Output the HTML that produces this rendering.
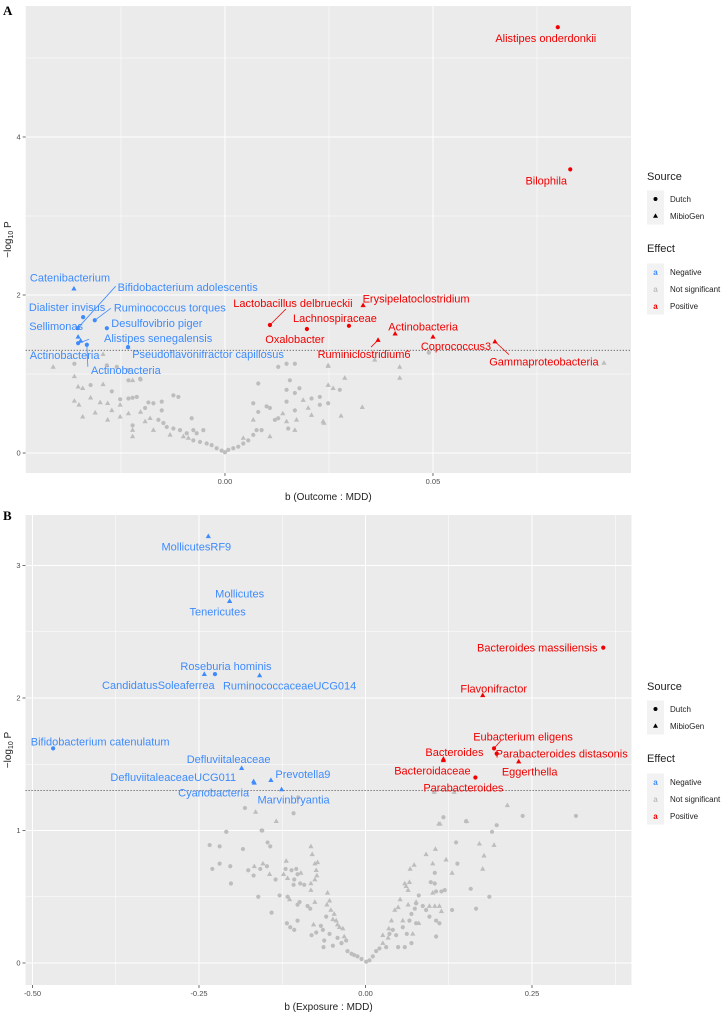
<!DOCTYPE html>
<html><head><meta charset="utf-8">
<style>
html,body{margin:0;padding:0;background:#fff;}
svg{display:block;font-family:"Liberation Sans",Arial,sans-serif;}
</style></head>
<body>
<svg id="fig" width="726" height="1015" viewBox="0 0 726 1015" xmlns="http://www.w3.org/2000/svg">
<text x="3" y="15" font-family="Liberation Serif,serif" font-weight="bold" font-size="13">A</text>
<text x="3" y="520" font-family="Liberation Serif,serif" font-weight="bold" font-size="13">B</text>
<g id="panelA"></g>
<g id="panelB"></g>
<g id="legendA"></g>
<g id="legendB"></g>
</svg>
<script>
// ---------- Panel A data ----------
const aLabNames = ["Alistipes onderdonkii","Bilophila","Catenibacterium","Bifidobacterium adolescentis","Dialister invisus","Ruminococcus torques","Desulfovibrio piger","Sellimonas","Alistipes senegalensis","Actinobacteria","Actinobacteria","Pseudoflavonifractor capillosus","Lactobacillus delbrueckii","Oxalobacter","Lachnospiraceae","Erysipelatoclostridium","Actinobacteria","Ruminiclostridium6","Coprococcus3","Gammaproteobacteria"];
const aLabB = [0.080,0.083,-0.0363,-0.0354,-0.0341,-0.0313,-0.0284,-0.0353,-0.0353,-0.0347,-0.0332,-0.0233,0.0108,0.0197,0.0298,0.0332,0.0409,0.0368,0.0500,0.0649];
const aLabP = [5.39,3.59,2.08,1.58,1.72,1.68,1.58,1.47,1.39,1.42,1.37,1.34,1.62,1.57,1.61,1.87,1.51,1.43,1.47,1.41];
const aLabShape = ["c","c","t","c","c","c","c","t","c","t","c","c","c","c","c","t","t","t","t","t"];
const aLabEffect = ["pos","pos","neg","neg","neg","neg","neg","neg","neg","neg","neg","neg","pos","pos","pos","pos","pos","pos","pos","pos"];
const aGrayB = [-0.0413,-0.0362,-0.0362,-0.0353,-0.0342,-0.0323,-0.0293,-0.0272,-0.0362,-0.0351,-0.0342,-0.0323,-0.0312,-0.0300,-0.0282,-0.0282,-0.0272,-0.0252,-0.0252,-0.0252,-0.0232,-0.0222,-0.0203,-0.0232,-0.0222,-0.0212,-0.0232,-0.0222,-0.0222,-0.0222,-0.0203,-0.0192,-0.0184,-0.0172,-0.0152,-0.0180,-0.0192,-0.0172,-0.0160,-0.0152,-0.0148,-0.0140,-0.0124,-0.0112,-0.0124,-0.0132,-0.0108,-0.0100,-0.0092,-0.0080,-0.0076,-0.0068,-0.0052,-0.0088,-0.0076,-0.0060,-0.0044,-0.0032,-0.0020,-0.0008,0.0000,0.0008,0.0020,0.0032,0.0044,0.0056,0.0044,0.0068,0.0076,0.0088,0.0080,0.0068,0.0080,0.0068,0.0100,0.0108,0.0108,0.0120,0.0128,0.0128,0.0148,0.0168,0.0139,0.0148,0.0152,0.0148,0.0148,0.0156,0.0168,0.0179,0.0168,0.0172,0.0168,0.0188,0.0200,0.0208,0.0208,0.0228,0.0228,0.0236,0.0248,0.0248,0.0260,0.0248,0.0360,0.0420,0.0420,0.0490,0.0911,0.0288,0.0248,0.0276,0.0330,0.0238,0.0279,-0.0293,-0.0284,-0.0260,-0.0233,-0.0204,-0.0233];
const aGrayP = [1.09,1.13,0.97,0.84,0.82,0.86,0.87,0.78,0.66,0.61,0.46,0.70,0.51,0.64,0.63,0.42,0.54,0.68,0.61,0.46,0.92,0.92,0.93,0.69,0.70,0.71,0.50,0.35,0.29,0.21,0.52,0.57,0.64,0.63,0.65,0.44,0.40,0.29,0.42,0.54,0.38,0.33,0.73,0.71,0.31,0.23,0.29,0.21,0.25,0.44,0.29,0.25,0.29,0.19,0.16,0.14,0.12,0.10,0.06,0.03,0.01,0.04,0.06,0.08,0.12,0.16,0.19,0.23,0.29,0.29,0.88,0.63,0.52,0.42,0.59,0.57,0.21,0.42,0.44,1.09,1.13,1.13,0.50,0.40,0.31,0.65,0.80,0.92,0.76,0.82,0.54,0.42,0.29,0.67,0.57,0.69,0.48,0.71,0.61,0.40,1.11,0.86,0.82,0.63,1.18,1.09,0.95,1.27,1.14,0.95,1.10,0.80,0.58,0.38,0.47,1.25,1.11,1.09,1.05,0.94,1.34];
const aGrayShape = ["t","c","t","t","t","c","t","c","t","t","t","t","t","t","t","t","t","c","t","t","c","t","c","c","c","c","t","c","t","t","t","c","c","c","c","t","t","t","c","c","c","c","c","c","c","t","c","t","c","c","c","c","c","t","c","c","c","c","c","c","c","c","c","c","c","c","t","c","c","c","c","c","c","t","c","c","t","c","c","c","c","c","t","t","c","c","c","c","c","c","c","t","t","t","t","c","t","c","c","t","t","t","t","c","t","t","t","c","t","t","t","c","t","t","t","t","c","c","c","c","t"];
const aXTicks = [0, 0.05];
const aXTickLabels = ["0.00","0.05"];
const aYTicks = [0, 2, 4];
const aYTickLabels = ["0","2","4"];
// label layout offsets (px) – styling only
const aLabOff = [[-12,11],[-24,11],[-4,-11],[110,-41],[-16,-10],[75,-13],[50,-5],[-22,-11],[80,-5],[-16,14],[39,25],[80,7],[23,-22],[-12,10],[-14,-8],[53,-7],[28,-7],[-14,14],[23,9],[49,20]];
const aLineOff = [null,null,null,[38,-42],null,[16,-12],null,null,[11,-4],null,[1,22],null,[16,-16],null,null,null,null,[-7,7],null,[14,13]];

// ---------- Panel B data ----------
const bLabNames = ["MollicutesRF9","Mollicutes","Tenericutes","Roseburia hominis","CandidatusSoleaferrea","RuminococcaceaeUCG014","Bifidobacterium catenulatum","Defluviitaleaceae","DefluviitaleaceaeUCG011","Prevotella9","Cyanobacteria","Marvinbryantia","Bacteroides massiliensis","Flavonifractor","Eubacterium eligens","Parabacteroides distasonis","Eggerthella","Bacteroides","Bacteroidaceae","Parabacteroides"];
const bLabB = [-0.236,-0.204,-0.204,-0.226,-0.242,-0.159,-0.469,-0.186,-0.167,-0.142,-0.168,-0.126,0.357,0.176,0.193,0.197,0.230,0.117,0.117,0.165];
const bLabP = [3.22,2.73,2.73,2.18,2.18,2.17,1.62,1.47,1.36,1.38,1.37,1.31,2.38,2.02,1.62,1.58,1.52,1.54,1.53,1.40];
const bLabShape = ["t","t","t","c","t","t","c","t","t","t","t","t","c","t","c","c","t","t","t","c"];
const bLabEffect = ["neg","neg","neg","neg","neg","neg","neg","neg","neg","neg","neg","neg","pos","pos","pos","pos","pos","pos","pos","pos"];
const bGrayB = [-0.234,-0.219,-0.209,-0.230,-0.219,-0.203,-0.202,-0.184,-0.176,-0.167,-0.168,-0.158,-0.154,-0.148,-0.156,-0.147,-0.143,-0.134,-0.144,-0.135,-0.161,-0.141,-0.129,-0.119,-0.120,-0.123,-0.117,-0.111,-0.104,-0.107,-0.102,-0.097,-0.098,-0.092,-0.108,-0.117,-0.114,-0.118,-0.113,-0.107,-0.102,-0.102,-0.099,-0.082,-0.080,-0.076,-0.072,-0.074,-0.073,-0.076,-0.082,-0.082,-0.087,-0.083,-0.076,-0.078,-0.081,-0.074,-0.067,-0.064,-0.062,-0.063,-0.059,-0.057,-0.058,-0.054,-0.052,-0.049,-0.047,-0.044,-0.042,-0.039,-0.034,-0.054,-0.049,-0.042,-0.036,-0.032,-0.029,-0.027,-0.021,-0.017,-0.012,-0.006,0.001,0.006,0.011,0.016,0.021,0.026,0.031,0.026,0.034,0.036,0.039,0.035,0.046,0.041,0.044,0.049,0.052,0.056,0.056,0.059,0.061,0.064,0.066,0.064,0.069,0.066,0.062,0.071,0.074,0.076,0.076,0.076,0.080,0.069,0.059,0.049,0.067,0.073,0.080,0.086,0.091,0.091,0.096,0.098,0.104,0.101,0.104,0.105,0.101,0.106,0.114,0.119,0.096,0.104,0.111,0.114,0.106,0.111,0.106,0.121,0.110,0.130,0.130,0.136,0.138,0.151,-0.181,-0.165,-0.155,-0.108,-0.101,-0.209,0.213,0.236,0.316,0.197,0.190,0.193,0.178,0.176,0.171,0.158,0.186,0.166,0.152,0.112,0.117,0.103,0.133];
const bGrayP = [0.89,0.88,0.99,0.71,0.75,0.73,0.60,0.86,0.70,0.73,0.66,0.71,0.75,0.73,1.00,0.91,0.88,1.07,0.67,0.63,0.50,0.38,0.51,0.77,0.71,0.67,0.64,0.70,0.71,0.63,0.67,0.68,0.60,0.59,0.59,0.50,0.48,0.30,0.27,0.25,0.32,0.44,0.46,0.88,0.82,0.75,0.76,0.70,0.66,0.63,0.60,0.55,0.43,0.41,0.46,0.29,0.21,0.23,0.28,0.25,0.17,0.12,0.35,0.53,0.44,0.47,0.40,0.33,0.37,0.32,0.29,0.27,0.26,0.22,0.13,0.19,0.15,0.20,0.17,0.09,0.07,0.06,0.05,0.03,0.01,0.02,0.05,0.09,0.11,0.15,0.12,0.21,0.19,0.22,0.32,0.26,0.21,0.25,0.40,0.42,0.48,0.27,0.32,0.60,0.58,0.55,0.61,0.44,0.37,0.32,0.22,0.22,0.41,0.45,0.46,0.30,0.30,0.15,0.12,0.12,0.71,0.74,0.51,0.43,0.40,0.82,0.35,0.61,0.60,0.75,0.68,0.86,0.53,0.54,0.54,0.55,0.43,0.43,0.43,0.39,0.32,0.30,0.20,0.78,1.05,0.68,0.40,0.91,0.75,1.07,1.17,1.14,1.00,1.13,1.25,0.99,1.19,1.11,1.11,1.04,0.99,0.89,0.81,0.71,0.90,0.56,0.50,0.41,1.07,1.05,1.10,1.29,1.29];
const bGrayShape = ["c","c","c","c","c","c","c","c","c","t","c","c","t","c","c","c","c","t","t","c","c","c","c","t","c","t","t","c","c","c","c","t","c","c","c","c","t","c","c","c","c","c","c","t","t","t","t","t","t","t","t","t","c","c","t","t","c","c","c","c","c","c","c","t","t","t","t","t","t","t","t","t","t","c","c","c","c","t","c","c","c","c","c","c","c","c","c","c","c","t","c","t","t","c","t","t","c","c","t","t","t","c","t","t","t","t","t","t","c","c","c","t","c","c","t","c","t","c","c","c","t","t","c","c","c","t","c","c","c","t","c","t","t","c","c","c","t","t","t","t","c","c","c","t","t","t","c","c","c","c","c","t","c","c","c","c","t","c","c","c","c","t","t","t","t","c","c","c","t","t","c","t"];
const bXTicks = [-0.5,-0.25,0,0.25];
const bXTickLabels = ["-0.50","-0.25","0.00","0.25"];
const bYTicks = [0,1,2,3];
const bYTickLabels = ["0","1","2","3"];
const bLabOff = [[-12,10],[10,-8],[-12,10],[11,-8],[-46,11],[30,10],[47,-7],[-13,-9],[-81,-6],[32,-6],[-40,11],[12,10],[-66,0],[11,-7],[29,-12],[65,0],[11,10],[11,-7],[-11,10],[-12,10]];
const bLineOff = [null,null,null,null,null,null,null,null,null,null,null,null,null,null,[7,-8],null,null,null,null,null];

const NS="http://www.w3.org/2000/svg";
const COL={neg:"#3d8bfd",pos:"#f00000",ns:"#bdbdbd"};
function mk(tag,attrs,parent){const e=document.createElementNS(NS,tag);for(const k in attrs)e.setAttribute(k,attrs[k]);parent.appendChild(e);return e;}

function drawPanel(g,cfg){
  const sx=v=>cfg.x0+(v-cfg.xmin)/(cfg.xmax-cfg.xmin)*(cfg.x1-cfg.x0);
  const sy=v=>cfg.y1-(v-cfg.ymin)/(cfg.ymax-cfg.ymin)*(cfg.y1-cfg.y0);
  const bg=mk("rect",{x:cfg.x0,y:cfg.y0,width:cfg.x1-cfg.x0,height:cfg.y1-cfg.y0,fill:"#ebebeb"},g);
  
  
  cfg.xMinor.forEach(v=>{const l=mk("line",{x1:sx(v),x2:sx(v),y1:cfg.y0,y2:cfg.y1,stroke:"#fff","stroke-width":0.5},g);
    
    });
  cfg.yMinor.forEach(v=>{const l=mk("line",{x1:cfg.x0,x2:cfg.x1,y1:sy(v),y2:sy(v),stroke:"#fff","stroke-width":0.5},g);
    
    });
  cfg.xTicks.forEach((v,i)=>{
    const l=mk("line",{x1:sx(v),x2:sx(v),y1:cfg.y0,y2:cfg.y1,stroke:"#fff","stroke-width":1},g);
    
    
    const t=mk("line",{x1:sx(v),x2:sx(v),y1:cfg.y1,y2:cfg.y1+3,stroke:"#333","stroke-width":0.7},g);
    
    
    const tx=mk("text",{x:sx(v),y:cfg.y1+11,"font-size":7.5,fill:"#4d4d4d","text-anchor":"middle"},g);
    tx.textContent=cfg.xLabels[i];
    
    
  });
  cfg.yTicks.forEach((v,i)=>{
    const l=mk("line",{x1:cfg.x0,x2:cfg.x1,y1:sy(v),y2:sy(v),stroke:"#fff","stroke-width":1},g);
    
    
    const t=mk("line",{x1:cfg.x0-3,x2:cfg.x0,y1:sy(v),y2:sy(v),stroke:"#333","stroke-width":0.7},g);
    
    
    const tx=mk("text",{x:cfg.x0-5,y:sy(v)+2.5,"font-size":7.5,fill:"#4d4d4d","text-anchor":"end"},g);
    tx.textContent=cfg.yLabels[i];
    
    
  });
  const th=mk("line",{x1:cfg.x0,x2:cfg.x1,y1:sy(1.30103),y2:sy(1.30103),stroke:"#333","stroke-width":0.8,"stroke-dasharray":"1.2,1.8"},g);
  
  
  function mark(x,y,shape,col,name){
    let e;
    if(shape==="c"){e=mk("circle",{cx:sx(x),cy:sy(y),r:2.1,fill:col},g);}
    else{const X=sx(x),Y=sy(y);e=mk("polygon",{points:`${X},${Y-2.8} ${X-2.6},${Y+1.8} ${X+2.6},${Y+1.8}`,fill:col},g);}
    
    
  }
  cfg.gB.forEach((v,i)=>mark(v,cfg.gP[i],cfg.gS[i],COL.ns,"nonsignificant-point"));
  cfg.lB.forEach((v,i)=>{
    const col=COL[cfg.lE[i]];
    mark(v,cfg.lP[i],cfg.lS[i],col,"significant-point");
    const X=sx(v),Y=sy(cfg.lP[i]);
    if(cfg.lineOff[i]){const lo=cfg.lineOff[i];
      const ln=mk("line",{x1:X,y1:Y,x2:X+lo[0],y2:Y+lo[1],stroke:col,"stroke-width":0.8},g);
      
      }
    const o=cfg.labOff[i];
    const t=mk("text",{x:X+o[0],y:Y+o[1]+4,"font-size":11,fill:col,"text-anchor":"middle"},g);
    t.textContent=cfg.lN[i];
    
    
  });
  const xt=mk("text",{x:(cfg.x0+cfg.x1)/2,y:cfg.xTitleY,"font-size":10,fill:"#222","text-anchor":"middle"},g);
  xt.textContent=cfg.xTitle;
  
  
  const yc=(cfg.y0+cfg.y1)/2;
  const yt=mk("text",{x:0,y:0,"font-size":10,fill:"#222","text-anchor":"middle",transform:`translate(11,${yc}) rotate(-90)`},g);
  yt.innerHTML='\u2212log<tspan font-size="7" dy="2">10</tspan><tspan dy="-2"> P</tspan>';
  
  
}

drawPanel(document.getElementById("panelA"),{x0:25.7,x1:631,y0:6,y1:473,xmin:-0.0479,xmax:0.0976,ymin:-0.253,ymax:5.658,
  xTicks:aXTicks,xLabels:aXTickLabels,yTicks:aYTicks,yLabels:aYTickLabels,xMinor:[-0.025,0.025,0.075],yMinor:[1,3,5],
  gB:aGrayB,gP:aGrayP,gS:aGrayShape,lB:aLabB,lP:aLabP,lS:aLabShape,lE:aLabEffect,lN:aLabNames,labOff:aLabOff,lineOff:aLineOff,
  xTitle:"b (Outcome : MDD)",xTitleY:500});
drawPanel(document.getElementById("panelB"),{x0:25.5,x1:631.5,y0:515,y1:985,xmin:-0.5105,xmax:0.3994,ymin:-0.166,ymax:3.381,
  xTicks:bXTicks,xLabels:bXTickLabels,yTicks:bYTicks,yLabels:bYTickLabels,xMinor:[-0.375,-0.125,0.125,0.375],yMinor:[0.5,1.5,2.5],
  gB:bGrayB,gP:bGrayP,gS:bGrayShape,lB:bLabB,lP:bLabP,lS:bLabShape,lE:bLabEffect,lN:bLabNames,labOff:bLabOff,lineOff:bLineOff,
  xTitle:"b (Exposure : MDD)",xTitleY:1010});

function legend(g,top){
  const x=647;
  const t1=mk("text",{x:x,y:top,"font-size":11,fill:"#222"},g);t1.textContent="Source";
  
  
  const src=[["Dutch","c"],["MibioGen","t"]];
  src.forEach((s,i)=>{const cy=top+19+i*17;
    const k=mk("rect",{x:x,y:cy-8.5,width:17,height:17,fill:"#f2f2f2"},g);
    
    
    if(s[1]==="c"){mk("circle",{cx:x+8.5,cy:cy,r:2,fill:"#000"},g);}
    else{mk("polygon",{points:`${x+8.5},${cy-2.6} ${x+6},${cy+1.7} ${x+11},${cy+1.7}`,fill:"#000"},g);}
    const tx=mk("text",{x:x+23,y:cy+3,"font-size":8,fill:"#222"},g);tx.textContent=s[0];
    
    });
  const t2=mk("text",{x:x,y:top+72,"font-size":11,fill:"#222"},g);t2.textContent="Effect";
  
  
  const eff=[["Negative",COL.neg],["Not significant",COL.ns],["Positive",COL.pos]];
  eff.forEach((s,i)=>{const cy=top+92+i*17;
    const k=mk("rect",{x:x,y:cy-8.5,width:17,height:17,fill:"#f2f2f2"},g);
    
    
    const a=mk("text",{x:x+8.5,y:cy+3,"font-size":8,"font-weight":"bold",fill:s[1],"text-anchor":"middle"},g);a.textContent="a";
    const tx=mk("text",{x:x+23,y:cy+3,"font-size":8,fill:"#222"},g);tx.textContent=s[0];
    
    });
}
legend(document.getElementById("legendA"),180);
legend(document.getElementById("legendB"),690);
</script>
</body></html>
